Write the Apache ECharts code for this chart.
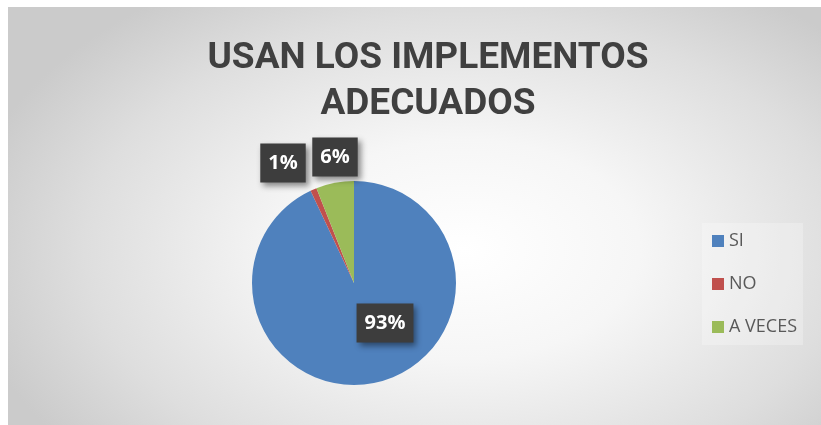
<!DOCTYPE html>
<html>
<head>
<meta charset="utf-8">
<script src="https://cdn.jsdelivr.net/npm/echarts@6/dist/echarts.min.js"></script>
<style>
    html, body { margin: 0; padding: 0; background: #ffffff; }
    #chart {
        position: absolute; left: 8px; top: 7px; width: 813px; height: 418px;
        background: radial-gradient(ellipse 62% 75% at 56% 58%, #ffffff 0%, #f6f6f6 35%, #dedede 75%, #cbcbcb 100%);
    }
</style>
</head>
<body>
<div id="chart"></div>
<script>
    // datos del grafico
    var categories = ['SI', 'NO', 'A VECES'];
    var values = [93, 1, 6];
    var colors = ['#4f81bd', '#c0504d', '#9bbb59'];

    // posicion de las etiquetas (como en el original)
    var labelPos = [[385, 323], [283, 163], [335, 157]];

    var myChart = echarts.init(document.getElementById('chart'));

    var data = [];
    for (var i = 0; i < categories.length; i++) {
        data.push({ name: categories[i], value: values[i], itemStyle: { color: colors[i] } });
    }

    var option = {
        animation: false,
        title: {
            text: 'USAN LOS IMPLEMENTOS\nADECUADOS',
            left: 415,
            textAlign: 'center',
            top: 24,
            textStyle: {
                fontFamily: 'Roboto',
                fontWeight: 'bold',
                fontSize: 37,
                lineHeight: 46,
                color: '#404040'
            }
        },
        legend: {
            orient: 'vertical',
            left: 694,
            top: 216,
            itemGap: 23,
            itemWidth: 12,
            itemHeight: 12,
            icon: 'rect',
            padding: [8, 6, 8, 10],
            backgroundColor: 'rgba(255,255,255,0.25)',
            textStyle: {
                fontFamily: 'Open Sans',
                fontSize: 18,
                lineHeight: 20,
                color: '#595959'
            },
            data: categories
        },
        series: [{
            type: 'pie',
            center: [346, 276],
            radius: 102,
            startAngle: 90,
            clockwise: true,
            data: data,
            label: {
                show: true,
                position: 'inside',
                formatter: '{d}%',
                fontFamily: 'Open Sans',
                fontWeight: 'bold',
                fontSize: 20,
                color: '#ffffff',
                backgroundColor: '#3d3d3d',
                padding: [10, 8, 9, 8],
                shadowColor: 'rgba(0,0,0,0.45)',
                shadowBlur: 6,
                shadowOffsetX: 3,
                shadowOffsetY: 3
            },
            labelLine: { show: false },
            labelLayout: function(params) {
                var p = labelPos[params.dataIndex];
                return { x: p[0] - 8, y: p[1] - 7, align: 'center', verticalAlign: 'middle' };
            },
            emphasis: { disabled: true }
        }]
    };
    myChart.setOption(option);
</script>
</body>
</html>
